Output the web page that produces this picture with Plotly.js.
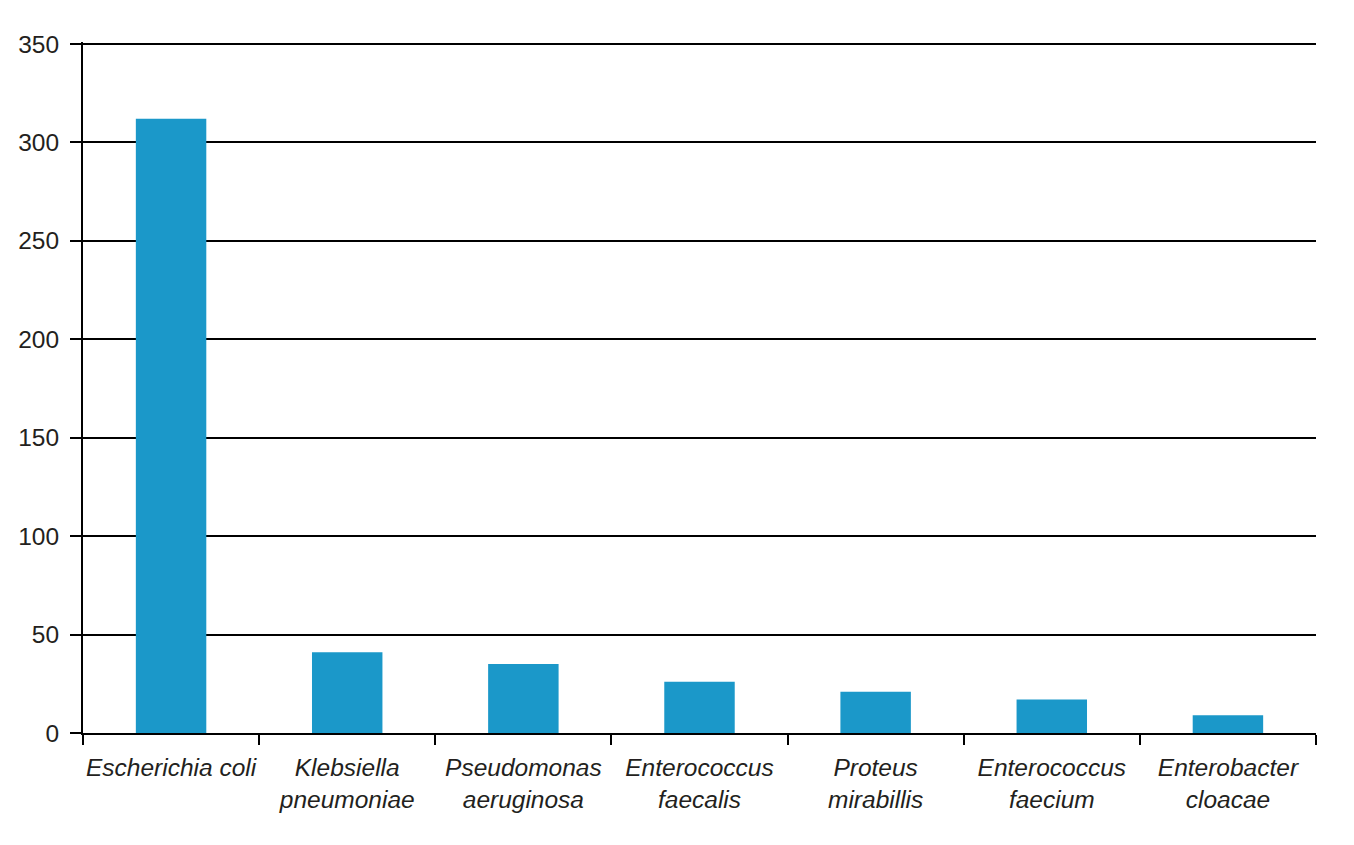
<!DOCTYPE html>
<html>
<head>
<meta charset="utf-8">
<script src="https://cdn.plot.ly/plotly-3.0.1.min.js"></script>
<style>
  html, body { margin: 0; padding: 0; background: #ffffff; }
  #chart { width: 1354px; height: 845px; }
</style>
</head>
<body>
<div id="chart"></div>
<script>
const categories = [
  "<i>Escherichia coli</i>",
  "<i>Klebsiella</i><br><i>pneumoniae</i>",
  "<i>Pseudomonas</i><br><i>aeruginosa</i>",
  "<i>Enterococcus</i><br><i>faecalis</i>",
  "<i>Proteus</i><br><i>mirabillis</i>",
  "<i>Enterococcus</i><br><i>faecium</i>",
  "<i>Enterobacter</i><br><i>cloacae</i>"
];
const counts = [312, 41, 35, 26, 21, 17, 9];
const yTicks = [0, 50, 100, 150, 200, 250, 300, 350];

const fontFamily = "Liberation Sans, Arial, Helvetica, sans-serif";
const textColor = "#231f20";

Plotly.newPlot("chart", [{
  type: "bar",
  x: categories,
  y: counts,
  marker: { color: "#1b98c9" },
  hoverinfo: "skip"
}], {
  width: 1354,
  height: 845,
  margin: { l: 83, r: 38, t: 42, b: 112, pad: 0 },
  paper_bgcolor: "#ffffff",
  plot_bgcolor: "#ffffff",
  bargap: 0.6,
  showlegend: false,
  font: { family: fontFamily, size: 24, color: textColor },
  xaxis: {
    type: "category",
    showline: true,
    linecolor: "#000000",
    linewidth: 2,
    ticks: "outside",
    tickson: "boundaries",
    ticklen: 10,
    tickwidth: 2,
    tickcolor: "#000000",
    showgrid: false,
    tickangle: 0,
    automargin: false,
    tickfont: { family: fontFamily, size: 24.5, color: textColor },
    ticklabelstandoff: 12,
    fixedrange: true
  },
  yaxis: {
    range: [0, 351],
    tickvals: yTicks,
    ticktext: yTicks.map(String),
    showline: true,
    linecolor: "#000000",
    linewidth: 2,
    ticks: "outside",
    ticklen: 11,
    tickwidth: 2,
    tickcolor: "#000000",
    showgrid: true,
    gridcolor: "#000000",
    gridwidth: 2,
    zeroline: false,
    automargin: false,
    tickfont: { family: fontFamily, size: 24.5, color: textColor },
    ticklabelstandoff: 6,
    fixedrange: true
  }
}, { displayModeBar: false, staticPlot: true });
</script>
</body>
</html>
